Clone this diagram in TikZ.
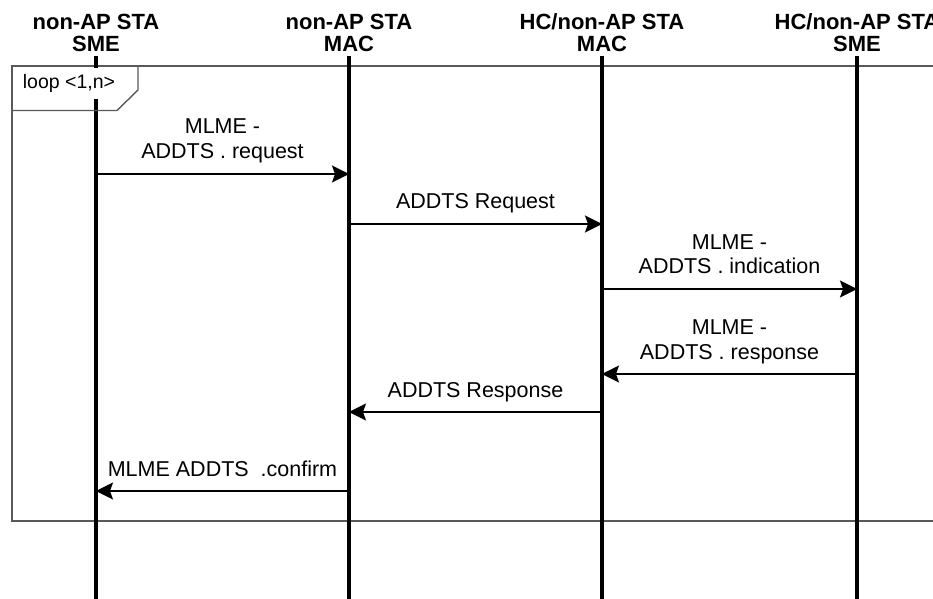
\documentclass[tikz,border=0pt]{standalone}
\usepackage{fontspec}
\setmainfont{Liberation Sans}
\usetikzlibrary{arrows.meta}
\begin{document}
\begin{tikzpicture}[x=0.5pt,y=-0.5pt,
  >={Stealth[length=8.5pt,width=8.5pt,inset=1.5pt]},
  hdr/.style={font=\fontsize{11}{11.2}\selectfont\bfseries,align=center,
    inner sep=0pt,text depth=0pt,anchor=south},
  life/.style={line width=1.7pt},
  frm/.style={line width=0.7pt,black!65},
  msg/.style={->,line width=1pt},
  lbl/.style={font=\fontsize{10.75}{12.5}\selectfont,align=center,
    inner sep=0pt,text depth=0pt,anchor=south,yshift=7pt}]
  \useasboundingbox (0,0) rectangle (933,599);
  \clip (0,0) rectangle (933,599);
  % 标题
  \node[hdr] (sme1) at (96,52) {non-AP STA\\SME};
  \node[hdr] (mac1) at (349,52) {non-AP STA\\MAC};
  \node[hdr] (mac2) at (602,52) {HC/non-AP STA\\MAC};
  \node[hdr] (sme2) at (857,52) {HC/non-AP STA\\SME};
  \coordinate (top) at (0,56);
  \coordinate (bot) at (0,599);
  % 循环框
  \draw[frm] (12,66) rectangle (945,521);
  % 生命线
  \foreach \n in {sme1,mac1,mac2,sme2}
    \draw[life] (\n |- top) -- (\n |- bot);
  % 循环标签
  \node[font=\fontsize{9.75}{11}\selectfont,fill=white,inner xsep=2pt,
    inner ysep=3.3pt,anchor=north] (loop) at (69,67.5) {loop <1,n>};
  \draw[frm] (138,66) -- (138,90) -- (117,110.5) -- (12,110.5);
  % 消息
  \coordinate (m1) at (0,174);
  \coordinate (m2) at (0,224);
  \coordinate (m3) at (0,289);
  \coordinate (m4) at (0,374);
  \coordinate (m5) at (0,412);
  \coordinate (m6) at (0,491);
  \draw[msg] (sme1 |- m1) -- (mac1 |- m1)
    node[midway,lbl] (l1) {MLME -\\ADDTS . request};
  \draw[msg] (mac1 |- m2) -- (mac2 |- m2)
    node[midway,lbl] (l2) {ADDTS Request};
  \draw[msg] (mac2 |- m3) -- (sme2 |- m3)
    node[midway,lbl] (l3) {MLME -\\ADDTS . indication};
  \draw[msg] (sme2 |- m4) -- (mac2 |- m4)
    node[midway,lbl] (l4) {MLME -\\ADDTS . response};
  \draw[msg] (mac2 |- m5) -- (mac1 |- m5)
    node[midway,lbl] (l5) {ADDTS Response};
  \draw[msg] (mac1 |- m6) -- (sme1 |- m6)
    node[midway,lbl] (l6) {MLME ADDTS\ \ .confirm};
\end{tikzpicture}
\end{document}
